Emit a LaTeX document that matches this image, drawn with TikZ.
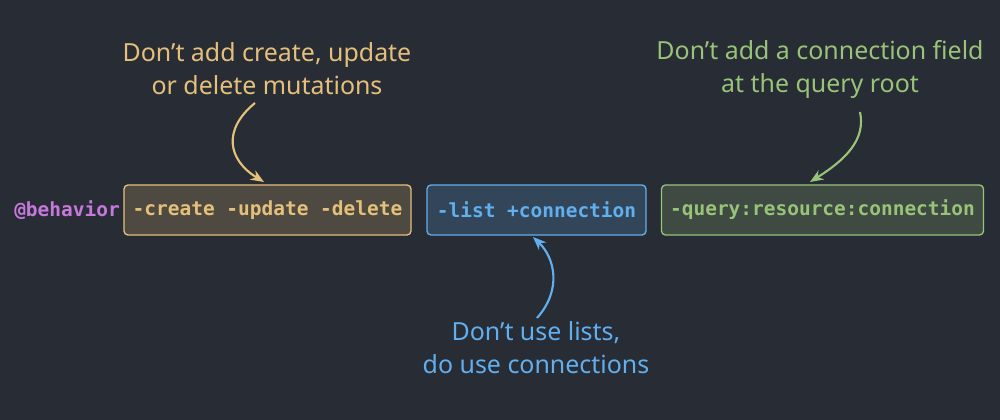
\documentclass[tikz,border=0pt]{standalone}
\usepackage{fontspec}
\setmainfont{Noto Sans}
\newfontfamily\codefont{DejaVu Sans Mono}
\usetikzlibrary{arrows.meta}
\definecolor{bg}{HTML}{282C34}
\definecolor{orn}{HTML}{E5C07B}
\definecolor{grn}{HTML}{98C379}
\definecolor{blu}{HTML}{61AFEF}
\definecolor{pur}{HTML}{C678DD}
\begin{document}
\begin{tikzpicture}[x=0.75pt,y=-0.75pt,
  codetext/.style={font=\codefont\bfseries\fontsize{14.6}{17}\selectfont},
  codebox/.style={draw=#1, fill=#1!20!bg, text=#1, rounded corners=3pt, line width=1pt,
    minimum height=37.5pt, inner sep=0pt, codetext},
  note/.style={text=#1, align=center, font=\fontsize{18.7}{24.75}\selectfont},
  pointer/.style={draw=#1, line width=1.6pt, -{Stealth[length=10pt,width=8pt]}}]
\fill[bg] (0,0) rectangle (1000,420);
\useasboundingbox (0,0) rectangle (1000,420);

\node[anchor=east, inner sep=0pt, text=pur, codetext] (beh) at (120,210) {@behavior};
\node[codebox=orn, minimum width=215.25pt] (obox) at (267.5,210) {-create -update -delete};
\node[codebox=blu, minimum width=164.25pt] (bbox) at (536.5,210) {-list +connection};
\node[codebox=grn, minimum width=241.5pt] (gbox) at (822.5,210) {-query:resource:connection};

\node[note=orn] (onote) at (267,69) {Don’t add create, update\\or delete mutations};
\node[note=grn] (gnote) at (820,69) {Don’t add a connection field\\at the query root};
\node[note=blu] (bnote) at (536,348) {Don’t use lists,\\do use connections};

\coordinate (os) at (255,103);
\coordinate (ot) at (264,182);
\coordinate (gs) at (860,112);
\coordinate (gt) at (810,182);
\coordinate (bs) at (537,318);
\coordinate (bt) at (533,237);

\draw[pointer=orn] (os) .. controls (222,130) and (228,160) .. (ot);
\draw[pointer=grn] (gs) .. controls (866,140) and (845,160) .. (gt);
\draw[pointer=blu] (bs) .. controls (562,290) and (555,258) .. (bt);
\end{tikzpicture}
\end{document}
